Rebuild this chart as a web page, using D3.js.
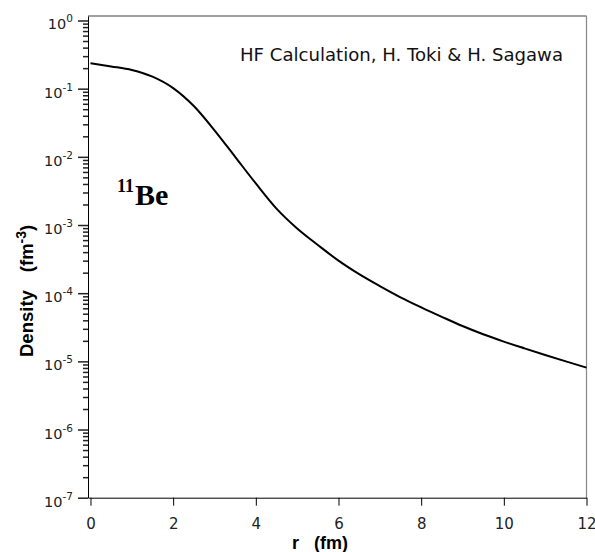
<!DOCTYPE html>
<html>
<head>
<meta charset="utf-8">
<script src="https://cdn.jsdelivr.net/npm/d3@7"></script>
<style>
  body { margin: 0; background: #fff; }
  svg { display: block; }
</style>
</head>
<body>
<div id="chart"></div>
<script>
// radius (fm) and density (fm^-3)
var radius  = [0, 0.5, 1, 1.5, 2, 2.5, 3, 3.5, 4, 4.5, 5, 5.5, 6, 6.5, 7, 7.5, 8, 8.5, 9, 9.5, 10, 10.5, 11, 11.5, 12];
var density = [0.236, 0.212, 0.188, 0.150, 0.102, 0.0556, 0.0245, 0.0100, 0.00407, 0.00174, 8.9e-4, 5.1e-4, 3.0e-4, 1.9e-4, 1.27e-4, 8.7e-5, 6.2e-5, 4.5e-5, 3.3e-5, 2.5e-5, 1.95e-5, 1.55e-5, 1.24e-5, 1.0e-5, 8.1e-6];

var xTicks = [0, 2, 4, 6, 8, 10, 12];
var yExponents = [0, -1, -2, -3, -4, -5, -6, -7];

var title = "HF Calculation, H. Toki & H. Sagawa";

var width = 595, height = 552;
var plotLeft = 88, plotRight = 586.5, plotTop = 16, plotBottom = 497.7;

var svg = d3.select("#chart").append("svg")
    .attr("width", width)
    .attr("height", height);

var xScale = d3.scaleLinear().domain([-0.06, 12]).range([plotLeft, plotRight]);
var yScale = d3.scaleLog().domain([1e-7, 1.164]).range([plotBottom, plotTop]);

// frame (top + right)
svg.append("path")
    .attr("d", "M" + plotLeft + "," + plotTop + "H" + plotRight)
    .attr("stroke", "#444").attr("stroke-width", 1.2).attr("fill", "none");
svg.append("path")
    .attr("d", "M" + plotRight + "," + plotTop + "V" + plotBottom)
    .attr("stroke", "#888").attr("stroke-width", 1.2).attr("fill", "none");

// x axis
var xAxis = svg.append("g")
    .attr("transform", "translate(0," + plotBottom + ")")
    .call(d3.axisBottom(xScale).tickValues(xTicks).tickSize(8).tickPadding(12.3).tickSizeOuter(0));
xAxis.selectAll("text")
    .attr("fill", "#222")
    .style("font-family", "'DejaVu Sans', sans-serif")
    .style("font-size", "15px");

// density curve
var densityLine = d3.line()
    .x(function(d) { return xScale(d[0]); })
    .y(function(d) { return yScale(d[1]); })
    .curve(d3.curveMonotoneX);

svg.append("path")
    .datum(d3.zip(radius, density))
    .attr("d", densityLine)
    .attr("fill", "none")
    .attr("stroke", "#000")
    .attr("stroke-width", 2);

// annotation
svg.append("text")
    .attr("x", 240).attr("y", 61)
    .style("font-family", "'DejaVu Sans', sans-serif")
    .style("font-size", "18.1px")
    .attr("fill", "#111")
    .text(title);

var nuc = svg.append("text")
    .attr("x", 117).attr("y", 205)
    .style("font-family", "'Liberation Serif', 'Times New Roman', serif")
    .style("font-weight", "bold")
    .attr("fill", "#000");
nuc.append("tspan").style("font-size", "18px").attr("dy", -13).text("11");
nuc.append("tspan").style("font-size", "30px").attr("dx", 1).attr("dy", 13).text("Be");

// axis titles
var xt = svg.append("text")
    .attr("x", 292).attr("y", 549)
    .style("font-family", "'Liberation Sans', Arial, sans-serif")
    .style("font-weight", "bold")
    .style("font-size", "18px")
    .attr("fill", "#000");
xt.append("tspan").text("r");
xt.append("tspan").attr("dx", 15).text("(fm)");

var yt = svg.append("text")
    .attr("transform", "translate(33,357) rotate(-90)")
    .style("font-family", "'Liberation Sans', Arial, sans-serif")
    .style("font-weight", "bold")
    .style("font-size", "18.5px")
    .attr("fill", "#000");
yt.append("tspan").text("Density");
yt.append("tspan").attr("dx", 18).text("(fm");
yt.append("tspan").style("font-size", "14px").attr("dy", -7).text("-3");
yt.append("tspan").attr("dy", 7).text(")");

// y axis: minor ticks (2..9 per decade), then majors with 10^n labels
var majors = yExponents.map(function(e) { return Math.pow(10, e); });
var minors = [];
yExponents.slice(0, -1).forEach(function(e) {
    for (var k = 2; k <= 9; k++) minors.push(k * Math.pow(10, e - 1));
});

var yMinor = svg.append("g")
    .attr("transform", "translate(" + plotLeft + ",0)")
    .call(d3.axisLeft(yScale).tickValues(minors).tickSize(5).tickSizeOuter(0).tickFormat(""));
yMinor.select(".domain").remove();
yMinor.selectAll("line").attr("stroke", "#222").attr("stroke-width", 1.5);

var yAxis = svg.append("g")
    .attr("transform", "translate(" + plotLeft + ",0)")
    .call(d3.axisLeft(yScale).tickValues(majors).tickSize(10).tickSizeOuter(0).tickFormat(""));
yAxis.selectAll(".tick line").attr("stroke", "#222").attr("stroke-width", 1.5);
yAxis.selectAll(".tick text").each(function(d) {
    var e = Math.round(Math.log10(d));
    var t = d3.select(this)
        .attr("x", -15).attr("dy", null).attr("y", 8.5)
        .attr("text-anchor", "end")
        .attr("fill", "#222")
        .style("font-family", "'DejaVu Sans', sans-serif");
    t.append("tspan").style("font-size", "14.5px").text("10");
    t.append("tspan").style("font-size", "10.5px").attr("dy", -7).text(e);
});
</script>
</body>
</html>
